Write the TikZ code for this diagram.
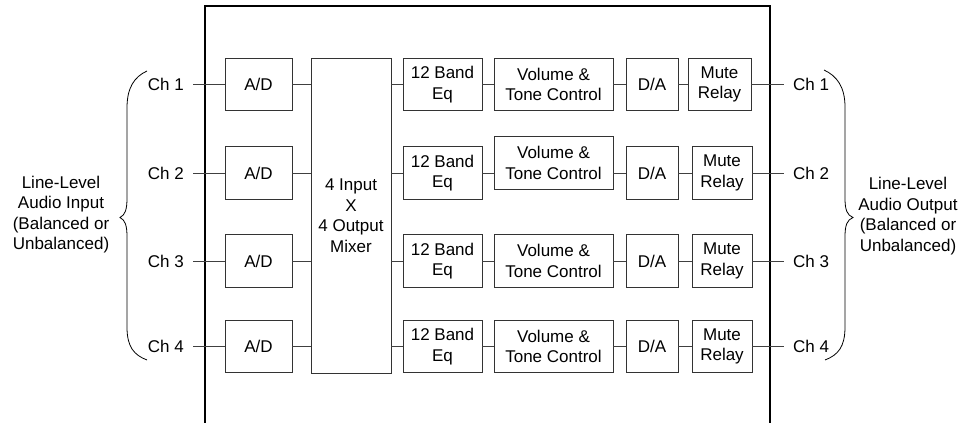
\documentclass[tikz,border=0pt]{standalone}
\usepackage{fontspec}
\setmainfont{Liberation Sans}
\begin{document}
\begin{tikzpicture}[x=1pt,y=-1pt,
  every node/.style={font=\fontsize{17}{20.5}\selectfont},
  blk/.style={draw=black!80,line width=0.9pt,inner sep=0pt,align=center,minimum height=52.5pt},
  wire/.style={draw=black!75,line width=0.9pt},
  frameline/.style={draw=black,line width=1.1pt},
  chl/.style={inner xsep=9pt,inner ysep=0pt},
  bracetxt/.style={align=center,inner sep=0pt}
]
\useasboundingbox (0,0) rectangle (972,423);
% enclosure
\coordinate (fbl) at (205,424);
\coordinate (ftl) at (205,6);
\coordinate (ftr) at (770,6);
\coordinate (fbr) at (770,424);
\draw[frameline] (fbl) -- (ftl) -- (ftr) -- (fbr);

% mixer
\node[blk,minimum width=80pt,minimum height=315pt] (mix) at (351,215.5) {4 Input\\X\\4 Output\\Mixer};

\foreach \i/\y/\vy/\mx in {1/84.5/84.5/719.5, 2/173/163/722, 3/261/261/722, 4/346.5/346.5/722}{
  \node[chl,anchor=east] (cin\i) at (193,\y) {Ch \i};
  \node[blk,minimum width=67pt] (ad\i) at (258.5,\y) {A/D};
  \node[blk,minimum width=79pt] (eq\i) at (442.5,\y) {12 Band\\Eq};
  \node[blk,minimum width=119pt] (vol\i) at (553.5,\vy) {Volume \&\\Tone Control};
  \node[blk,minimum width=52pt] (da\i) at (652,\y) {D/A};
  \node[blk,minimum width={\mx==719.5 ? 63 : 60}] (mr\i) at (\mx,\y) {Mute\\Relay};
  \node[chl,anchor=west] (cout\i) at (784,\y) {Ch \i};
  \draw[wire] (cin\i.east) -- (ad\i.west);
  \draw[wire] (ad\i.east) -- (ad\i.east -| mix.west);
  \draw[wire] (eq\i.west -| mix.east) -- (eq\i.west);
  \draw[wire] (eq\i.east) -- (eq\i.east -| vol\i.west);
  \draw[wire] (da\i.west -| vol\i.east) -- (da\i.west);
  \draw[wire] (da\i.east) -- (mr\i.west);
  \draw[wire] (mr\i.east) -- (cout\i.west);
}

% braces
\draw[black,line width=0.8pt] (147,71) .. controls (134,77) and (127,88) .. (127,108)
  -- (127,198) .. controls (127,210) and (125,215) .. (120,217.5)
  .. controls (125,220) and (127,225) .. (127,237)
  -- (127,327) .. controls (127,347) and (134,355) .. (147,360);
\draw[black,line width=0.8pt] (824,70) .. controls (837,76) and (845,87) .. (845,107)
  -- (845,198) .. controls (845,210) and (847,215) .. (853,217.5)
  .. controls (847,220) and (845,225) .. (845,237)
  -- (845,327) .. controls (845,347) and (838,355) .. (825,360);

\node[bracetxt] (lin) at (61,214.5) {Line-Level\\Audio Input\\(Balanced or\\Unbalanced)};
\node[bracetxt] (lout) at (908,216) {Line-Level\\Audio Output\\(Balanced or\\Unbalanced)};
\end{tikzpicture}
\end{document}
